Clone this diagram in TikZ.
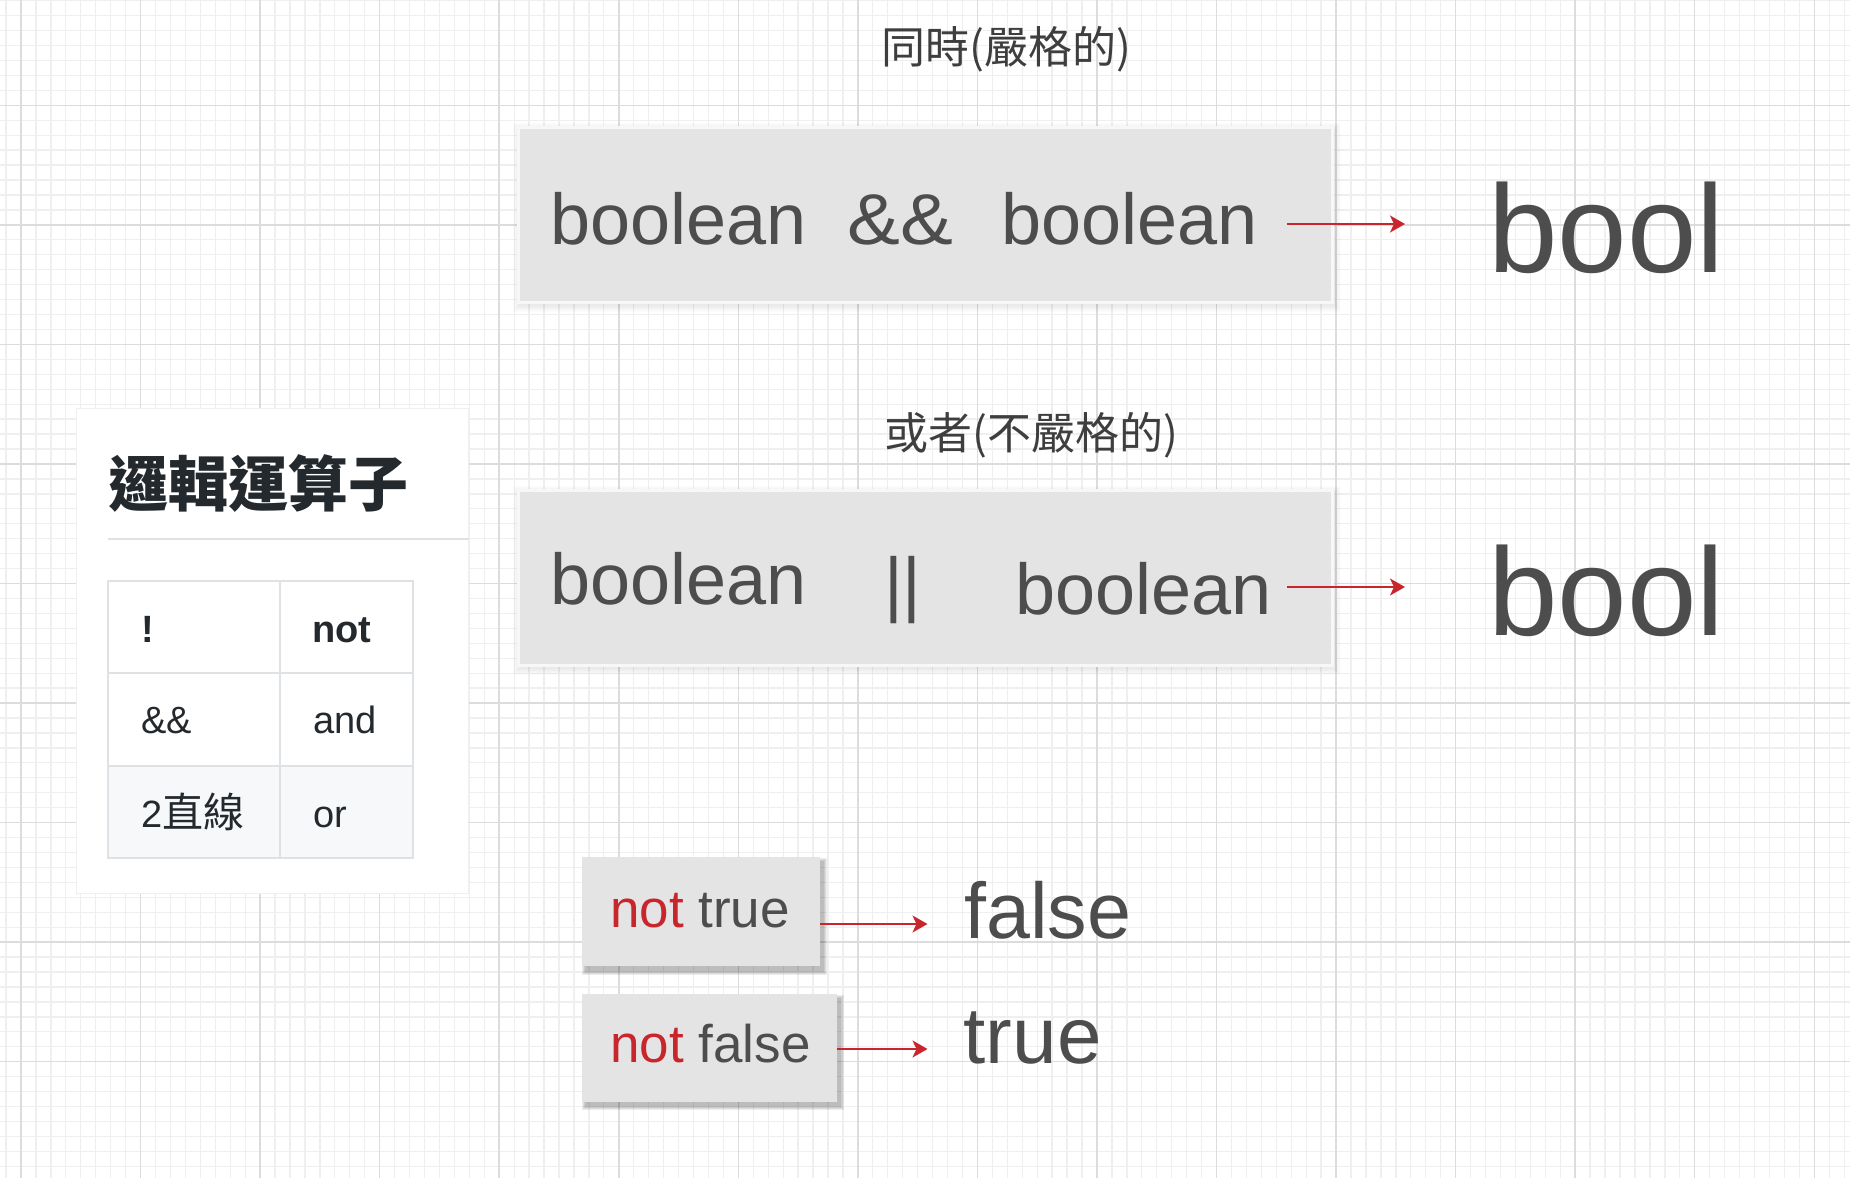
\documentclass[tikz,border=0pt]{standalone}
\usepackage{fontspec}
\setmainfont{Liberation Sans}
\newfontfamily\cjk{Noto Sans CJK TC}
\usetikzlibrary{arrows.meta}
\definecolor{gridminor}{HTML}{EFEFEF}
\definecolor{gridmajor}{HTML}{DCDCDC}
\definecolor{boxfill}{HTML}{E4E4E4}
\definecolor{txt}{HTML}{4D4D4D}
\definecolor{arrred}{HTML}{C9252D}
\definecolor{tbl}{HTML}{24292E}
\definecolor{tblline}{HTML}{DFE2E5}
\definecolor{tblalt}{HTML}{F6F8FA}
\definecolor{ttl}{HTML}{3E3E3E}
\newcommand{\softshadow}[7]{%
  \foreach \r in {1,...,#7}{%
    \fill[black, opacity=#6] ({#1+#5-\r},{#2+#5+1-\r}) rectangle ({#3+#5+\r},{#4+#5+1+\r});
  }}
\begin{document}
\begin{tikzpicture}[x=1pt,y=-1pt,
  lbl/.style={inner sep=0pt, anchor=base west, text=txt},
  cjkttl/.style={inner sep=0pt, anchor=west, text=ttl, font=\cjk\fontsize{44}{50}\selectfont},
  bigbox/.style={draw=white!70!boxfill, line width=2.5pt, fill=boxfill, inner sep=0pt, anchor=north west},
  smallbox/.style={fill=boxfill, inner sep=0pt, anchor=north west},
  redarrow/.style={draw=arrred, line width=2pt, -{Stealth[length=15pt,width=17pt,inset=4pt]}},
  cell/.style={inner sep=0pt, anchor=base west, text=tbl, font=\fontsize{38}{44}\selectfont},
  tblrule/.style={draw=tblline, line width=2pt}]

% background and grid
\useasboundingbox (0,0) rectangle (1850,1178);
\fill[white] (0,0) rectangle (1850,1178);
\foreach \i in {-2,...,124}{
  \pgfmathsetmacro{\gx}{21+\i*14.944}
  \draw[gridminor, line width=1.3pt] (\gx,0) -- (\gx,1178);
}
\foreach \j in {-1,...,80}{
  \pgfmathsetmacro{\gy}{-14.25+\j*14.944}
  \draw[gridminor, line width=1.3pt] (0,\gy) -- (1850,\gy);
}
\foreach \i in {0,...,15}{
  \pgfmathsetmacro{\gx}{21+\i*119.55}
  \draw[gridmajor, line width=1.5pt] (\gx,0) -- (\gx,1178);
}
\foreach \j in {0,...,9}{
  \pgfmathsetmacro{\gy}{105.3+\j*119.55}
  \draw[gridmajor, line width=1.5pt] (0,\gy) -- (1850,\gy);
}

% titles
\node[cjkttl] (t1) at (881,49) {同時(嚴格的)};
\node[cjkttl] (t2) at (884,435) {或者(不嚴格的)};

% big boxes
\softshadow{517}{126}{1331}{301}{3}{0.013}{7}
\node[bigbox, minimum width=814pt, minimum height=175pt] (b1) at (517,126) {};
\softshadow{517}{489}{1331}{664}{3}{0.013}{7}
\node[bigbox, minimum width=814pt, minimum height=175pt] (b2) at (517,489) {};

\node[lbl, font=\fontsize{72}{80}\selectfont] (b1l) at (550,244) {boolean};
\node[lbl, font=\fontsize{72}{80}\selectfont] (b1op) at (847,244) {\scalebox{1.1}[1]{\&\&}};
\node[lbl, font=\fontsize{72}{80}\selectfont] (b1r) at (1001,244) {boolean};

\node[lbl, font=\fontsize{72}{80}\selectfont] (b2l) at (550,604) {boolean};
\node[lbl, font=\fontsize{72}{80}\selectfont] (b2op) at (884,608) {||};
\node[lbl, font=\fontsize{72}{80}\selectfont] (b2r) at (1015,614) {boolean};

% results bool
\node[lbl, font=\fontsize{125}{140}\selectfont] (r1) at (1488,272) {bool};
\node[lbl, font=\fontsize{125}{140}\selectfont] (r2) at (1488,635) {bool};

\coordinate (a1s) at (1287,224);
\coordinate (a1e) at (1405,224);
\coordinate (a2s) at (1287,587);
\coordinate (a2e) at (1405,587);
\draw[redarrow] (a1s) -- (a1e);
\draw[redarrow] (a2s) -- (a2e);

% small boxes
\softshadow{582}{857}{819.5}{966}{3.5}{0.07}{4}
\node[smallbox, minimum width=237.5pt, minimum height=109pt] (nt) at (582,857) {};
\softshadow{582}{994}{836.7}{1101.7}{3.5}{0.07}{4}
\node[smallbox, minimum width=254.7pt, minimum height=107.7pt] (nf) at (582,994) {};

\node[lbl, font=\fontsize{53}{60}\selectfont] (ntt) at (610,927) {\textcolor{arrred}{not} true};
\node[lbl, font=\fontsize{53}{60}\selectfont] (nft) at (610,1062) {\textcolor{arrred}{not} false};

\node[lbl, font=\fontsize{79}{90}\selectfont] (rf) at (964,938) {false};
\node[lbl, font=\fontsize{80}{90}\selectfont] (rt) at (963.5,1063) {true};

\coordinate (a3s) at (nt.east |- 0,924);
\coordinate (a3e) at (927.5,924);
\coordinate (a4s) at (nf.east |- 0,1049);
\coordinate (a4e) at (927.5,1049);
\draw[redarrow] (a3s) -- (a3e);
\draw[redarrow] (a4s) -- (a4e);

% table panel
\node[fill=white, draw=gridminor, line width=1pt, inner sep=0pt, anchor=north west,
      minimum width=392pt, minimum height=485pt] (panel) at (76,408) {};
\node[inner sep=0pt, anchor=west, text=tbl, font=\cjk\bfseries\fontsize{60}{66}\selectfont] (ptitle) at (108,483.5) {邏輯運算子};
\draw[tblrule] (108,539) -- (panel.east |- 0,539);

\fill[tblalt] (108,766) rectangle (413,858);
\draw[tblrule] (108,581) rectangle (413,858);
\draw[tblrule] (280,581) -- (280,858);
\draw[tblrule] (108,673) -- (413,673);
\draw[tblrule] (108,766) -- (413,766);

\node[cell, font=\bfseries\fontsize{38}{44}\selectfont] (c11) at (141,642) {!};
\node[cell, font=\bfseries\fontsize{38}{44}\selectfont] (c12) at (312,642) {not};
\node[cell] (c21) at (141,733) {\&\&};
\node[cell] (c22) at (313,733) {and};
\node[cell] (c31) at (141,827) {2{\cjk\fontsize{41}{44}\selectfont 直線}};
\node[cell] (c32) at (313,827) {or};
\end{tikzpicture}
\end{document}
